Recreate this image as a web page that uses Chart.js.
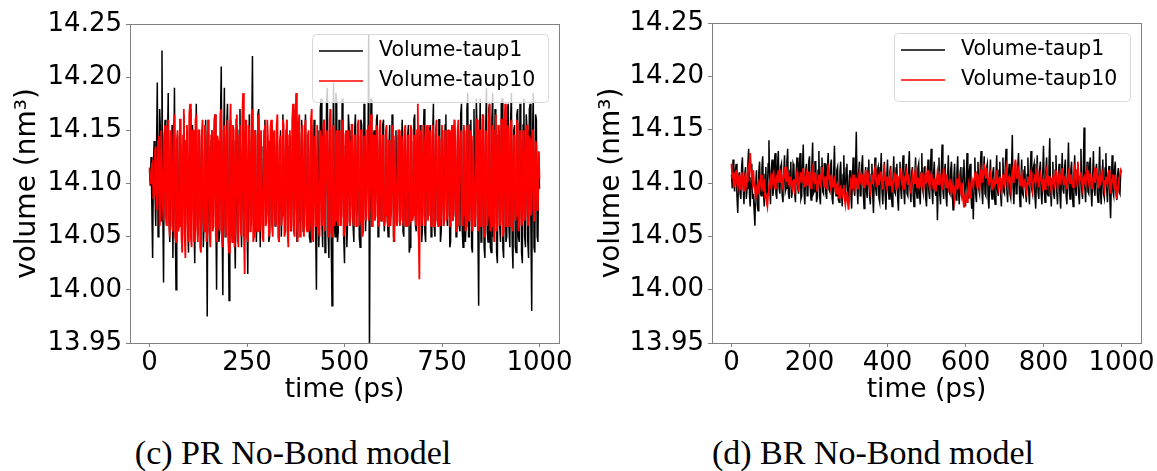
<!DOCTYPE html>
<html>
<head>
<meta charset="utf-8">
<script src="https://cdn.jsdelivr.net/npm/chart.js@4"></script>
<style>
  body { margin: 0; background: #fff; }
  .panel { position: absolute; top: 0; height: 410px; }
  .caption { position: absolute; top: 434px; font-family: "Liberation Serif", serif; font-size: 34px; color: #000; white-space: nowrap; transform: translateX(-50%); }
</style>
</head>
<body>
<div class="panel" style="left:0;width:580px"><canvas id="prChart"></canvas></div>
<div class="panel" style="left:580px;width:577px"><canvas id="brChart"></canvas></div>
<div class="caption" style="left:293px">(c) PR No-Bond model</div>
<div class="caption" style="left:873px">(d) BR No-Bond model</div>
<script>
// sampling times (ps), one frame every 2 ps
const timesPs = Array.from({ length: 501 }, (_, i) => i * 2);

const yTicks = [13.95, 14.00, 14.05, 14.10, 14.15, 14.20, 14.25];
const prXTicks = [0, 250, 500, 750, 1000];
const brXTicks = [0, 200, 400, 600, 800, 1000];

// (c) PR No-Bond, taup = 1   (20 values per row = 40 ps)
const prTaup1 = [
  14.112, 14.098, 14.125, 14.080, 14.030, 14.118, 14.140, 14.095, 14.060, 14.130, 14.195, 14.050, 14.075, 14.170, 14.150, 14.065, 14.225, 14.085, 14.007, 14.140,
  14.160, 14.090, 14.060, 14.135, 14.185, 14.070, 14.045, 14.110, 14.120, 14.155, 14.030, 14.100, 14.190, 14.065, 14.000, 14.125, 14.145, 14.085, 14.070, 14.150,
  14.135, 14.075, 14.040, 14.120, 14.165, 14.095, 14.055, 14.140, 14.150, 14.060, 14.035, 14.105, 14.170, 14.050, 14.080, 14.155, 14.140, 14.070, 14.025, 14.115,
  14.175, 14.085, 14.050, 14.130, 14.145, 14.070, 14.060, 14.150, 14.125, 14.040, 14.065, 14.110, 14.160, 14.090, 13.975, 14.120, 14.135, 14.055, 14.045, 14.140,
  14.150, 14.060, 14.070, 14.145, 14.165, 14.080, 14.000, 14.115, 14.130, 14.045, 14.055, 14.160, 14.210, 14.075, 13.995, 14.135, 14.190, 14.050, 14.060, 14.155,
  14.175, 14.070, 13.990, 14.125, 14.160, 14.085, 14.050, 14.140, 14.140, 14.060, 14.020, 14.110, 14.155, 14.045, 14.065, 14.150, 14.170, 14.080, 14.040, 14.130,
  14.135, 14.050, 14.075, 14.160, 14.145, 14.065, 14.015, 14.120, 14.165, 14.090, 14.060, 14.140, 14.220, 14.070, 14.055, 14.130, 14.150, 14.045, 14.080, 14.165,
  14.170, 14.085, 14.040, 14.135, 14.125, 14.055, 14.060, 14.150, 14.160, 14.075, 14.070, 14.130, 14.140, 14.045, 14.050, 14.120, 14.155, 14.065, 14.075, 14.145,
  14.145, 14.060, 14.065, 14.140, 14.135, 14.085, 14.045, 14.125, 14.150, 14.050, 14.080, 14.165, 14.130, 14.070, 14.060, 14.145, 14.160, 14.055, 14.070, 14.135,
  14.145, 14.075, 14.055, 14.130, 14.170, 14.060, 14.075, 14.150, 14.135, 14.045, 14.050, 14.125, 14.150, 14.065, 14.080, 14.160, 14.140, 14.055, 14.065, 14.140,
  14.165, 14.080, 14.060, 14.145, 14.130, 14.050, 14.045, 14.135, 14.155, 14.075, 14.070, 14.160, 14.140, 14.060, 14.000, 14.120, 14.150, 14.040, 14.065, 14.170,
  14.180, 14.065, 14.040, 14.150, 14.160, 14.035, 14.075, 14.175, 14.190, 14.055, 14.030, 14.140, 14.170, 14.045, 13.985, 14.130, 14.195, 14.060, 14.050, 14.185,
  14.175, 14.045, 14.055, 14.160, 14.145, 14.060, 14.070, 14.180, 14.160, 14.050, 14.025, 14.135, 14.140, 14.040, 14.065, 14.165, 14.150, 14.070, 14.080, 14.145,
  14.135, 14.060, 14.045, 14.150, 14.165, 14.075, 14.070, 14.140, 14.145, 14.050, 14.040, 14.160, 14.155, 14.065, 14.060, 14.175, 14.170, 14.055, 14.085, 14.130,
  14.110, 14.240, 13.940, 14.120, 14.180, 14.060, 14.060, 14.145, 14.150, 14.070, 14.085, 14.160, 14.165, 14.050, 14.055, 14.140, 14.140, 14.065, 14.075, 14.155,
  14.160, 14.055, 14.070, 14.150, 14.140, 14.065, 14.050, 14.135, 14.155, 14.070, 14.080, 14.165, 14.135, 14.045, 14.060, 14.140, 14.150, 14.060, 14.075, 14.145,
  14.145, 14.070, 14.065, 14.135, 14.160, 14.055, 14.050, 14.150, 14.130, 14.060, 14.070, 14.145, 14.155, 14.035, 14.040, 14.130, 14.140, 14.065, 14.075, 14.160,
  14.165, 14.060, 14.055, 14.140, 14.135, 14.050, 14.080, 14.155, 14.150, 14.045, 14.060, 14.145, 14.170, 14.055, 14.045, 14.135, 14.140, 14.070, 14.070, 14.150,
  14.155, 14.050, 14.065, 14.145, 14.175, 14.060, 14.050, 14.140, 14.140, 14.065, 14.075, 14.160, 14.160, 14.045, 14.055, 14.150, 14.145, 14.060, 14.080, 14.155,
  14.165, 14.070, 14.060, 14.150, 14.140, 14.040, 14.045, 14.135, 14.155, 14.065, 14.070, 14.160, 14.135, 14.050, 14.065, 14.145, 14.150, 14.060, 14.055, 14.165,
  14.175, 14.055, 14.040, 14.145, 14.150, 14.045, 14.065, 14.170, 14.185, 14.050, 14.050, 14.155, 14.160, 14.040, 14.035, 14.140, 14.170, 14.060, 14.060, 14.180,
  14.145, 14.060, 13.985, 14.130, 14.180, 14.045, 14.050, 14.165, 14.160, 14.040, 14.030, 14.150, 14.190, 14.055, 14.045, 14.170, 14.175, 14.040, 14.035, 14.160,
  14.185, 14.050, 14.055, 14.170, 14.165, 14.035, 14.025, 14.145, 14.150, 14.060, 14.045, 14.175, 14.180, 14.040, 14.030, 14.160, 14.160, 14.045, 14.050, 14.170,
  14.175, 14.055, 14.040, 14.160, 14.185, 14.045, 14.020, 14.150, 14.155, 14.040, 14.035, 14.165, 14.170, 14.050, 14.045, 14.175, 14.165, 14.035, 14.025, 14.155,
  14.180, 14.050, 14.040, 14.165, 14.150, 14.045, 14.030, 14.170, 14.175, 14.060, 13.980, 14.140, 14.185, 14.040, 14.035, 14.165, 14.160, 14.050, 14.045, 14.130,
  14.095
];

// (c) PR No-Bond, taup = 10
const prTaup10 = [
  14.115, 14.105, 14.100, 14.118, 14.120, 14.085, 14.090, 14.130, 14.135, 14.075, 14.080, 14.140, 14.145, 14.060, 14.070, 14.150, 14.150, 14.080, 14.065, 14.145,
  14.155, 14.070, 14.060, 14.140, 14.160, 14.065, 14.050, 14.150, 14.145, 14.060, 14.055, 14.155, 14.165, 14.050, 14.045, 14.140, 14.150, 14.055, 14.060, 14.160,
  14.160, 14.050, 14.035, 14.145, 14.170, 14.055, 14.030, 14.140, 14.155, 14.060, 14.045, 14.165, 14.175, 14.050, 14.040, 14.150, 14.150, 14.045, 14.055, 14.160,
  14.165, 14.060, 14.045, 14.150, 14.150, 14.040, 14.035, 14.145, 14.160, 14.065, 14.055, 14.155, 14.145, 14.045, 14.050, 14.160, 14.155, 14.055, 14.040, 14.145,
  14.150, 14.055, 14.060, 14.160, 14.165, 14.050, 14.045, 14.145, 14.140, 14.060, 14.055, 14.165, 14.170, 14.045, 14.040, 14.150, 14.155, 14.060, 14.050, 14.145,
  14.160, 14.050, 14.035, 14.150, 14.175, 14.060, 14.045, 14.155, 14.150, 14.040, 14.055, 14.160, 14.165, 14.050, 14.040, 14.145, 14.155, 14.055, 14.050, 14.165,
  14.185, 14.060, 14.015, 14.140, 14.160, 14.050, 14.045, 14.155, 14.150, 14.055, 14.060, 14.165, 14.170, 14.045, 14.050, 14.150, 14.145, 14.060, 14.055, 14.160,
  14.165, 14.055, 14.060, 14.150, 14.150, 14.050, 14.045, 14.145, 14.155, 14.060, 14.065, 14.160, 14.140, 14.050, 14.055, 14.150, 14.160, 14.060, 14.050, 14.145,
  14.150, 14.065, 14.060, 14.155, 14.165, 14.050, 14.045, 14.140, 14.145, 14.060, 14.070, 14.160, 14.155, 14.050, 14.055, 14.150, 14.160, 14.055, 14.040, 14.145,
  14.150, 14.055, 14.060, 14.160, 14.175, 14.055, 14.050, 14.150, 14.185, 14.060, 14.045, 14.155, 14.165, 14.050, 14.060, 14.145, 14.155, 14.060, 14.050, 14.150,
  14.160, 14.060, 14.055, 14.145, 14.150, 14.055, 14.065, 14.160, 14.170, 14.050, 14.045, 14.140, 14.145, 14.060, 14.060, 14.155, 14.155, 14.055, 14.050, 14.150,
  14.145, 14.060, 14.065, 14.155, 14.160, 14.055, 14.055, 14.145, 14.150, 14.050, 14.060, 14.160, 14.170, 14.055, 14.050, 14.150, 14.155, 14.060, 14.065, 14.145,
  14.150, 14.065, 14.060, 14.150, 14.145, 14.060, 14.070, 14.155, 14.160, 14.050, 14.055, 14.145, 14.150, 14.060, 14.065, 14.150, 14.140, 14.060, 14.070, 14.155,
  14.155, 14.065, 14.060, 14.145, 14.145, 14.060, 14.075, 14.155, 14.160, 14.060, 14.065, 14.150, 14.150, 14.050, 14.055, 14.145, 14.140, 14.065, 14.070, 14.150,
  14.155, 14.065, 14.075, 14.150, 14.165, 14.060, 14.060, 14.145, 14.145, 14.065, 14.070, 14.155, 14.150, 14.060, 14.065, 14.150, 14.160, 14.065, 14.075, 14.145,
  14.145, 14.060, 14.070, 14.150, 14.155, 14.065, 14.060, 14.140, 14.140, 14.060, 14.075, 14.155, 14.150, 14.050, 14.045, 14.145, 14.145, 14.060, 14.065, 14.150,
  14.150, 14.060, 14.070, 14.145, 14.140, 14.065, 14.060, 14.150, 14.155, 14.060, 14.075, 14.145, 14.145, 14.060, 14.065, 14.155, 14.150, 14.065, 14.070, 14.145,
  14.145, 14.065, 14.060, 14.150, 14.175, 14.060, 14.010, 14.140, 14.150, 14.060, 14.070, 14.155, 14.140, 14.060, 14.065, 14.150, 14.155, 14.065, 14.075, 14.145,
  14.150, 14.060, 14.065, 14.155, 14.145, 14.060, 14.075, 14.150, 14.160, 14.065, 14.060, 14.145, 14.140, 14.060, 14.070, 14.155, 14.155, 14.060, 14.065, 14.150,
  14.145, 14.065, 14.070, 14.150, 14.150, 14.060, 14.060, 14.145, 14.155, 14.065, 14.075, 14.160, 14.140, 14.055, 14.065, 14.150, 14.160, 14.060, 14.060, 14.145,
  14.150, 14.060, 14.070, 14.155, 14.145, 14.055, 14.060, 14.150, 14.155, 14.065, 14.065, 14.150, 14.150, 14.060, 14.055, 14.145, 14.145, 14.060, 14.070, 14.160,
  14.160, 14.055, 14.060, 14.150, 14.150, 14.060, 14.065, 14.160, 14.165, 14.050, 14.055, 14.150, 14.145, 14.060, 14.070, 14.160, 14.175, 14.055, 14.060, 14.150,
  14.155, 14.060, 14.045, 14.150, 14.165, 14.055, 14.060, 14.155, 14.150, 14.060, 14.065, 14.160, 14.160, 14.050, 14.055, 14.150, 14.175, 14.060, 14.060, 14.155,
  14.150, 14.060, 14.065, 14.155, 14.160, 14.060, 14.055, 14.145, 14.145, 14.065, 14.070, 14.160, 14.155, 14.055, 14.060, 14.150, 14.150, 14.060, 14.065, 14.150,
  14.145, 14.065, 14.070, 14.150, 14.155, 14.060, 14.065, 14.145, 14.140, 14.070, 14.075, 14.150, 14.150, 14.065, 14.070, 14.140, 14.135, 14.075, 14.080, 14.130,
  14.105
];

// (d) BR No-Bond, taup = 1
const brTaup1 = [
  14.108, 14.095, 14.122, 14.100, 14.092, 14.112, 14.118, 14.088, 14.072, 14.105, 14.110, 14.090, 14.085, 14.115, 14.124, 14.095, 14.080, 14.108, 14.115, 14.085,
  14.095, 14.118, 14.132, 14.090, 14.078, 14.105, 14.118, 14.085, 14.090, 14.075, 14.060, 14.098, 14.112, 14.080, 14.074, 14.110, 14.120, 14.092, 14.088, 14.115,
  14.125, 14.090, 14.078, 14.108, 14.115, 14.085, 14.092, 14.118, 14.140, 14.095, 14.080, 14.112, 14.122, 14.088, 14.095, 14.120, 14.128, 14.090, 14.085, 14.116,
  14.130, 14.095, 14.090, 14.115, 14.118, 14.088, 14.082, 14.110, 14.126, 14.092, 14.095, 14.120, 14.132, 14.090, 14.085, 14.112, 14.120, 14.086, 14.092, 14.118,
  14.115, 14.090, 14.082, 14.112, 14.124, 14.095, 14.090, 14.118, 14.128, 14.085, 14.088, 14.114, 14.136, 14.092, 14.080, 14.110, 14.118, 14.088, 14.092, 14.120,
  14.125, 14.094, 14.084, 14.115, 14.138, 14.090, 14.092, 14.120, 14.120, 14.082, 14.086, 14.112, 14.130, 14.088, 14.080, 14.115, 14.124, 14.092, 14.090, 14.118,
  14.118, 14.090, 14.085, 14.114, 14.128, 14.094, 14.092, 14.116, 14.122, 14.086, 14.080, 14.110, 14.135, 14.092, 14.088, 14.112, 14.115, 14.084, 14.082, 14.110,
  14.120, 14.092, 14.078, 14.108, 14.126, 14.088, 14.090, 14.114, 14.118, 14.084, 14.082, 14.106, 14.112, 14.090, 14.076, 14.104, 14.124, 14.094, 14.088, 14.112,
  14.148, 14.096, 14.080, 14.110, 14.120, 14.088, 14.090, 14.116, 14.126, 14.090, 14.076, 14.104, 14.115, 14.092, 14.086, 14.114, 14.122, 14.088, 14.080, 14.108,
  14.118, 14.090, 14.072, 14.102, 14.124, 14.094, 14.088, 14.112, 14.115, 14.086, 14.082, 14.110, 14.128, 14.092, 14.080, 14.106, 14.120, 14.090, 14.075, 14.104,
  14.122, 14.094, 14.085, 14.110, 14.116, 14.088, 14.078, 14.104, 14.125, 14.092, 14.090, 14.114, 14.118, 14.086, 14.074, 14.102, 14.120, 14.094, 14.085, 14.112,
  14.126, 14.092, 14.080, 14.108, 14.118, 14.090, 14.088, 14.116, 14.130, 14.094, 14.082, 14.110, 14.115, 14.088, 14.078, 14.106, 14.124, 14.092, 14.086, 14.114,
  14.118, 14.090, 14.080, 14.110, 14.128, 14.094, 14.090, 14.114, 14.116, 14.086, 14.078, 14.104, 14.122, 14.092, 14.085, 14.112, 14.132, 14.094, 14.080, 14.108,
  14.120, 14.092, 14.088, 14.104, 14.065, 14.098, 14.124, 14.090, 14.080, 14.112, 14.136, 14.094, 14.085, 14.110, 14.118, 14.088, 14.078, 14.104, 14.126, 14.092,
  14.090, 14.112, 14.120, 14.094, 14.075, 14.104, 14.118, 14.090, 14.084, 14.110, 14.125, 14.092, 14.080, 14.106, 14.115, 14.088, 14.088, 14.114, 14.122, 14.094,
  14.078, 14.104, 14.128, 14.092, 14.085, 14.112, 14.118, 14.088, 14.076, 14.098, 14.066, 14.100, 14.124, 14.090, 14.082, 14.110, 14.120, 14.094, 14.090, 14.116,
  14.130, 14.094, 14.080, 14.108, 14.125, 14.090, 14.088, 14.114, 14.118, 14.086, 14.076, 14.104, 14.122, 14.092, 14.085, 14.110, 14.115, 14.088, 14.080, 14.106,
  14.126, 14.094, 14.088, 14.112, 14.120, 14.090, 14.078, 14.104, 14.124, 14.092, 14.090, 14.116, 14.132, 14.094, 14.082, 14.108, 14.118, 14.090, 14.086, 14.112,
  14.145, 14.096, 14.080, 14.106, 14.120, 14.090, 14.092, 14.116, 14.128, 14.094, 14.078, 14.102, 14.122, 14.090, 14.088, 14.112, 14.116, 14.092, 14.082, 14.108,
  14.124, 14.092, 14.080, 14.110, 14.130, 14.094, 14.090, 14.114, 14.118, 14.088, 14.076, 14.104, 14.126, 14.092, 14.085, 14.112, 14.120, 14.090, 14.080, 14.108,
  14.135, 14.094, 14.082, 14.110, 14.124, 14.090, 14.088, 14.114, 14.142, 14.094, 14.078, 14.104, 14.120, 14.090, 14.085, 14.112, 14.126, 14.092, 14.080, 14.106,
  14.118, 14.090, 14.076, 14.104, 14.128, 14.094, 14.090, 14.114, 14.122, 14.088, 14.080, 14.108, 14.138, 14.094, 14.085, 14.112, 14.120, 14.090, 14.078, 14.106,
  14.126, 14.094, 14.088, 14.112, 14.118, 14.090, 14.080, 14.106, 14.132, 14.094, 14.085, 14.110, 14.152, 14.096, 14.082, 14.108, 14.120, 14.092, 14.090, 14.116,
  14.124, 14.092, 14.078, 14.104, 14.130, 14.094, 14.088, 14.112, 14.118, 14.090, 14.082, 14.108, 14.134, 14.092, 14.080, 14.106, 14.122, 14.090, 14.086, 14.114,
  14.128, 14.094, 14.082, 14.108, 14.116, 14.088, 14.067, 14.100, 14.126, 14.092, 14.088, 14.112, 14.120, 14.090, 14.084, 14.108, 14.114, 14.092, 14.090, 14.110,
  14.112
];

// (d) BR No-Bond, taup = 10
const brTaup10 = [
  14.118, 14.104, 14.110, 14.096, 14.100, 14.106, 14.112, 14.100, 14.095, 14.102, 14.108, 14.094, 14.098, 14.110, 14.104, 14.096, 14.092, 14.104, 14.110, 14.098,
  14.102, 14.110, 14.115, 14.120, 14.128, 14.112, 14.105, 14.100, 14.112, 14.098, 14.095, 14.086, 14.090, 14.098, 14.100, 14.090, 14.094, 14.102, 14.108, 14.096,
  14.098, 14.092, 14.104, 14.086, 14.090, 14.082, 14.078, 14.090, 14.096, 14.102, 14.105, 14.094, 14.100, 14.108, 14.110, 14.098, 14.095, 14.104, 14.106, 14.100,
  14.112, 14.104, 14.100, 14.110, 14.108, 14.098, 14.095, 14.108, 14.115, 14.106, 14.102, 14.112, 14.110, 14.100, 14.098, 14.104, 14.106, 14.096, 14.094, 14.102,
  14.104, 14.094, 14.098, 14.106, 14.110, 14.100, 14.092, 14.100, 14.106, 14.110, 14.100, 14.108, 14.114, 14.102, 14.096, 14.104, 14.108, 14.098, 14.102, 14.110,
  14.110, 14.100, 14.095, 14.106, 14.112, 14.104, 14.100, 14.110, 14.106, 14.098, 14.092, 14.102, 14.108, 14.100, 14.098, 14.108, 14.115, 14.106, 14.102, 14.096,
  14.106, 14.100, 14.094, 14.108, 14.118, 14.106, 14.100, 14.096, 14.108, 14.100, 14.096, 14.102, 14.104, 14.094, 14.090, 14.098, 14.100, 14.092, 14.086, 14.094,
  14.096, 14.090, 14.088, 14.094, 14.098, 14.086, 14.080, 14.088, 14.092, 14.082, 14.075, 14.086, 14.095, 14.102, 14.100, 14.094, 14.108, 14.100, 14.096, 14.104,
  14.104, 14.098, 14.094, 14.104, 14.110, 14.102, 14.100, 14.108, 14.106, 14.098, 14.096, 14.104, 14.112, 14.104, 14.098, 14.108, 14.104, 14.096, 14.092, 14.100,
  14.108, 14.102, 14.100, 14.110, 14.114, 14.104, 14.096, 14.104, 14.106, 14.098, 14.102, 14.110, 14.110, 14.100, 14.094, 14.104, 14.112, 14.106, 14.100, 14.096,
  14.106, 14.100, 14.098, 14.106, 14.110, 14.100, 14.092, 14.100, 14.104, 14.110, 14.100, 14.094, 14.108, 14.102, 14.096, 14.106, 14.114, 14.108, 14.102, 14.098,
  14.106, 14.100, 14.094, 14.104, 14.110, 14.104, 14.098, 14.106, 14.104, 14.096, 14.090, 14.098, 14.108, 14.104, 14.100, 14.108, 14.112, 14.102, 14.096, 14.104,
  14.104, 14.096, 14.098, 14.108, 14.110, 14.102, 14.094, 14.100, 14.106, 14.110, 14.100, 14.106, 14.112, 14.100, 14.096, 14.104, 14.108, 14.104, 14.100, 14.094,
  14.104, 14.098, 14.092, 14.102, 14.110, 14.104, 14.098, 14.108, 14.106, 14.098, 14.094, 14.106, 14.114, 14.104, 14.100, 14.096, 14.108, 14.102, 14.096, 14.100,
  14.104, 14.096, 14.090, 14.094, 14.098, 14.090, 14.084, 14.092, 14.100, 14.104, 14.094, 14.100, 14.106, 14.098, 14.092, 14.088, 14.100, 14.086, 14.077, 14.084,
  14.090, 14.086, 14.082, 14.092, 14.098, 14.090, 14.086, 14.096, 14.104, 14.100, 14.096, 14.104, 14.110, 14.104, 14.100, 14.108, 14.106, 14.098, 14.094, 14.104,
  14.112, 14.106, 14.100, 14.110, 14.118, 14.110, 14.104, 14.112, 14.110, 14.102, 14.098, 14.104, 14.108, 14.100, 14.094, 14.102, 14.104, 14.098, 14.100, 14.108,
  14.110, 14.102, 14.096, 14.104, 14.106, 14.098, 14.092, 14.100, 14.108, 14.104, 14.100, 14.108, 14.114, 14.106, 14.098, 14.104, 14.106, 14.100, 14.094, 14.102,
  14.110, 14.104, 14.100, 14.112, 14.122, 14.110, 14.104, 14.108, 14.112, 14.104, 14.098, 14.104, 14.108, 14.100, 14.096, 14.102, 14.104, 14.096, 14.092, 14.100,
  14.106, 14.100, 14.098, 14.106, 14.110, 14.102, 14.094, 14.100, 14.104, 14.108, 14.100, 14.106, 14.112, 14.104, 14.096, 14.102, 14.108, 14.104, 14.100, 14.096,
  14.104, 14.100, 14.094, 14.102, 14.110, 14.104, 14.098, 14.106, 14.106, 14.098, 14.092, 14.100, 14.104, 14.108, 14.100, 14.106, 14.112, 14.104, 14.096, 14.102,
  14.108, 14.102, 14.100, 14.108, 14.114, 14.104, 14.098, 14.104, 14.106, 14.100, 14.094, 14.102, 14.110, 14.106, 14.100, 14.108, 14.104, 14.098, 14.096, 14.104,
  14.112, 14.106, 14.102, 14.112, 14.120, 14.108, 14.100, 14.106, 14.110, 14.102, 14.096, 14.104, 14.106, 14.100, 14.098, 14.106, 14.112, 14.104, 14.100, 14.108,
  14.108, 14.100, 14.094, 14.102, 14.106, 14.110, 14.100, 14.108, 14.114, 14.104, 14.096, 14.102, 14.108, 14.100, 14.102, 14.110, 14.110, 14.100, 14.094, 14.102,
  14.106, 14.100, 14.098, 14.106, 14.112, 14.100, 14.090, 14.098, 14.104, 14.108, 14.100, 14.094, 14.108, 14.096, 14.085, 14.092, 14.096, 14.104, 14.104, 14.112,
  14.110
];

const seriesLabels = ['Volume-taup1', 'Volume-taup10'];
const seriesColors = ['#000000', '#ff0000'];
const seriesWidths = [1.5, 1.8];

const FONT = 'DejaVu Sans';
const SPINE = '#808080';

function toPoints(values) {
  return values.map((v, i) => ({ x: timesPs[i], y: v }));
}

// top/right spines
const frameBox = {
  id: 'frameBox',
  afterDraw(chart) {
    const { ctx, chartArea: a } = chart;
    ctx.save();
    ctx.strokeStyle = SPINE;
    ctx.lineWidth = 1;
    ctx.strokeRect(Math.round(a.left) + 0.5, Math.round(a.top) + 0.5,
      Math.round(a.right - a.left), Math.round(a.bottom - a.top));
    ctx.restore();
  }
};

// matplotlib-style legend box, upper right inside the axes
const boxLegend = {
  id: 'boxLegend',
  afterDatasetsDraw(chart) {
    const { ctx, chartArea: a } = chart;
    const w = 236, h = 68;
    const x = a.right - 11 - w, y = a.top + 10;
    ctx.save();
    ctx.beginPath();
    ctx.roundRect(x + 0.5, y + 0.5, w, h, 4);
    ctx.fillStyle = 'rgba(255,255,255,0.8)';
    ctx.fill();
    ctx.strokeStyle = '#d8d8d8';
    ctx.lineWidth = 1;
    ctx.stroke();
    ctx.font = '20.5px "' + FONT + '"';
    ctx.textBaseline = 'middle';
    ctx.fillStyle = '#000';
    chart.data.datasets.forEach((ds, i) => {
      const ry = y + 17 + i * 30;
      ctx.beginPath();
      ctx.moveTo(x + 7, ry);
      ctx.lineTo(x + 51, ry);
      ctx.strokeStyle = ds.borderColor;
      ctx.lineWidth = 1.5;
      ctx.stroke();
      ctx.fillText(ds.label, x + 67, ry);
    });
    ctx.restore();
  }
};

function makeChart(id, taup1, taup10, xTicks, pad, axisW, axisH, yTitlePad) {
  const ctx = document.getElementById(id).getContext('2d');
  return new Chart(ctx, {
    type: 'line',
    data: {
      datasets: [
        { label: seriesLabels[0], data: toPoints(taup1), borderColor: seriesColors[0], borderWidth: seriesWidths[0], order: 2 },
        { label: seriesLabels[1], data: toPoints(taup10), borderColor: seriesColors[1], borderWidth: seriesWidths[1], order: 1 }
      ]
    },
    options: {
      responsive: true,
      maintainAspectRatio: false,
      animation: false,
      events: [],
      layout: { padding: pad },
      elements: { point: { radius: 0 }, line: { tension: 0 } },
      plugins: { legend: { display: false }, tooltip: { enabled: false } },
      scales: {
        x: {
          type: 'linear',
          min: -50,
          max: 1050,
          afterBuildTicks: s => { s.ticks = xTicks.map(v => ({ value: v })); },
          afterFit: s => { s.height = axisH; s.paddingLeft = 0; s.paddingRight = 0; },
          ticks: { color: '#000', font: { family: FONT, size: 26 }, padding: 1, maxRotation: 0, autoSkip: false, callback: v => String(v) },
          grid: { drawOnChartArea: false, drawTicks: true, tickLength: 4, color: SPINE },
          border: { color: SPINE, width: 1 },
          title: { display: true, text: 'time (ps)', color: '#000', font: { family: FONT, size: 26.5 }, padding: { top: 0, bottom: 4 } }
        },
        y: {
          min: 13.95,
          max: 14.25,
          afterBuildTicks: s => { s.ticks = yTicks.map(v => ({ value: v })); },
          afterFit: s => { s.width = axisW; s.paddingTop = 0; s.paddingBottom = 0; },
          ticks: { color: '#000', font: { family: FONT, size: 26 }, padding: 4, callback: v => v.toFixed(2) },
          grid: { drawOnChartArea: false, drawTicks: true, tickLength: 4, color: SPINE },
          border: { color: SPINE, width: 1 },
          title: { display: true, text: 'volume (nm³)', color: '#000', font: { family: FONT, size: 28 }, padding: { top: yTitlePad, bottom: 0 } }
        }
      }
    },
    plugins: [frameBox, boxLegend]
  });
}

makeChart('prChart', prTaup1, prTaup10, prXTicks, { left: 0, top: 24, right: 21, bottom: 0 }, 130, 67, 11);
makeChart('brChart', brTaup1, brTaup10, brXTicks, { left: 0, top: 23, right: 16, bottom: 0 }, 132, 67, 15);
</script>
</body>
</html>
